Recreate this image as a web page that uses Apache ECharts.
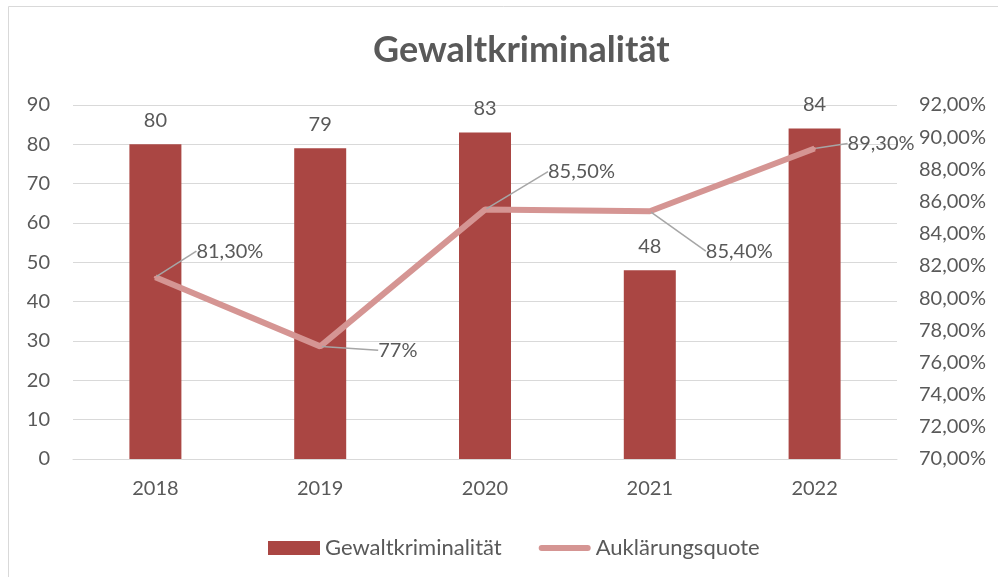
<!DOCTYPE html>
<html>
<head>
<meta charset="utf-8">
<script src="https://cdn.jsdelivr.net/npm/echarts@6/dist/echarts.min.js"></script>
<style>
html,body{margin:0;padding:0;background:#fff;}
#chart{width:998px;height:577px;}
</style>
</head>
<body>
<div id="chart"></div>
<script>
const categories = ['2018', '2019', '2020', '2021', '2022'];
const gewaltkriminalitaet = [80, 79, 83, 48, 84];
const aufklaerungsquote = [81.3, 77, 85.5, 85.4, 89.3];
const quoteLabels = ['81,30%', '77%', '85,50%', '85,40%', '89,30%'];
const seriesNames = ['Gewaltkriminalität', 'Auklärungsquote'];
const titleText = 'Gewaltkriminalität';

// leader line layout per label: [elbowDx, elbowDy, endDx, textDx]
const leaderLayout = [
  [21, -26, 33, 41],
  [48, 4, 52, 58],
  [47, -38, 55, 63],
  [36, 40, 51, 56],
  [12, -5, 24, 33]
];

const FONT = 'Lato';
const TXT = '#595959';
const BAR = '#AA4643';
const LINE = '#D59593';

const chart = echarts.init(document.getElementById('chart'), null, {renderer: 'canvas'});
chart.setOption({
  backgroundColor: '#fff',
  animation: false,
  title: {
    text: titleText,
    left: 368,
    top: 27,
    textStyle: {fontFamily: FONT, fontSize: 36, fontWeight: 'bold', color: TXT}
  },
  graphic: [{
    type: 'rect',
    shape: {x: 8.5, y: 6.5, width: 1100, height: 700},
    style: {fill: 'none', stroke: '#D9D9D9', lineWidth: 1},
    silent: true
  }],
  legend: {
    top: 532,
    left: 263,
    itemGap: 37,
    itemWidth: 52,
    itemHeight: 14,
    textStyle: {fontFamily: FONT, fontSize: 22, color: TXT},
    data: [
      {name: seriesNames[0], icon: 'rect'},
      {name: seriesNames[1], icon: 'path://M3,0 L49,0 A3,3 0 0 1 49,6 L3,6 A3,3 0 0 1 3,0 Z', itemStyle: {color: LINE}}
    ]
  },
  grid: {left: 73, right: 101, top: 105, bottom: 118},
  xAxis: {
    type: 'category',
    data: categories,
    axisLine: {show: true, lineStyle: {color: '#D9D9D9', width: 1}},
    axisTick: {show: false},
    axisLabel: {fontFamily: FONT, fontSize: 20, color: TXT, margin: 20}
  },
  yAxis: [{
    type: 'value',
    min: 0, max: 90, interval: 10,
    axisLine: {show: false},
    axisTick: {show: false},
    splitLine: {lineStyle: {color: '#D9D9D9', width: 1}},
    axisLabel: {fontFamily: FONT, fontSize: 20, color: TXT, margin: 23}
  }, {
    type: 'value',
    min: 70, max: 92, interval: 2,
    axisLine: {show: false},
    axisTick: {show: false},
    splitLine: {show: false},
    axisLabel: {
      fontFamily: FONT, fontSize: 20, color: TXT, margin: 22,
      formatter: v => v.toFixed(2).replace('.', ',') + '%'
    }
  }],
  series: [{
    name: seriesNames[0],
    type: 'bar',
    data: gewaltkriminalitaet,
    barWidth: 52,
    itemStyle: {color: BAR},
    label: {
      show: true, position: 'top', distance: 14,
      fontFamily: FONT, fontSize: 20, color: TXT
    }
  }, {
    name: seriesNames[1],
    type: 'line',
    yAxisIndex: 1,
    data: aufklaerungsquote,
    symbol: 'circle',
    symbolSize: 3,
    showSymbol: true,
    itemStyle: {color: LINE},
    lineStyle: {color: LINE, width: 6},
    label: {
      show: true,
      position: 'right',
      fontFamily: FONT, fontSize: 20, color: TXT,
      formatter: p => quoteLabels[p.dataIndex]
    },
    labelLine: {show: true, lineStyle: {color: '#A6A6A6', width: 1.5}},
    labelLayout: function (params) {
      const i = params.dataIndex;
      const L = leaderLayout[i];
      const cx = params.rect.x + params.rect.width / 2;
      const cy = params.rect.y + params.rect.height / 2;
      return {
        x: cx + L[3],
        y: cy + L[1],
        align: 'left',
        verticalAlign: 'middle',
        labelLinePoints: [[cx, cy], [cx + L[0], cy + L[1]], [cx + L[2], cy + L[1]]]
      };
    }
  }]
});
</script>
</body>
</html>
